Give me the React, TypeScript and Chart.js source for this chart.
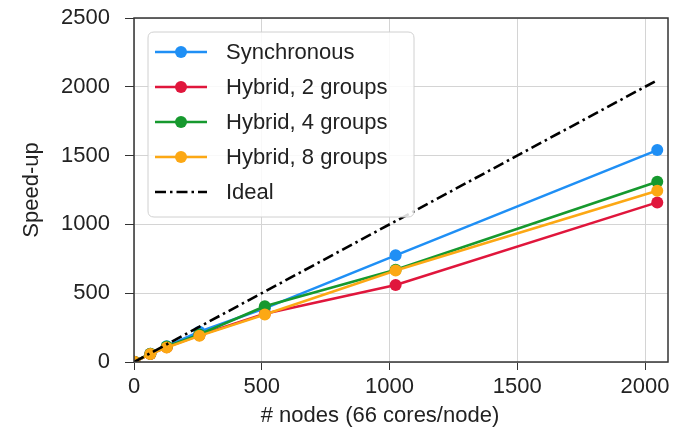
import React, { useEffect, useRef } from "react";
import { Chart, registerables } from "chart.js";

Chart.register(...registerables);

const nodes = [1, 64, 128, 256, 512, 1024, 2048];
const synchronous = [1, 60, 115, 220, 390, 775, 1540];
const hybrid2 = [1, 58, 108, 195, 350, 560, 1160];
const hybrid4 = [1, 60, 112, 200, 405, 670, 1310];
const hybrid8 = [1, 58, 105, 190, 345, 665, 1245];
const idealNodes = [0, 2048];
const idealSpeedup = [0, 2048];

const xTicks = [0, 500, 1000, 1500, 2000];
const yTicks = [0, 500, 1000, 1500, 2000, 2500];

const seriesNames = ["Synchronous", "Hybrid, 2 groups", "Hybrid, 4 groups", "Hybrid, 8 groups", "Ideal"];
const seriesColors = ["#1f8ff5", "#e0163c", "#16992e", "#fca814", "#000000"];

const FONT = "'Liberation Sans', Arial, sans-serif";
const FS = 22;
const TEXT = "#222222";

const toPts = (xs: number[], ys: number[]) => xs.map((x, i) => ({ x, y: ys[i] }));

const decorPlugin = {
  id: "decor",
  afterDraw(chart: any) {
    const { ctx, chartArea } = chart;
    const { left, right, top, bottom } = chartArea;
    ctx.save();
    ctx.strokeStyle = "#333333";
    ctx.lineWidth = 1.5;
    ctx.strokeRect(left, top, right - left, bottom - top);
    ctx.fillStyle = TEXT;
    ctx.font = `${FS}px ${FONT}`;
    ctx.textAlign = "center";
    ctx.textBaseline = "middle";
    ctx.fillText("# nodes (66 cores/node)", 380, 416);
    ctx.save();
    ctx.translate(32, 190);
    ctx.rotate(-Math.PI / 2);
    ctx.fillText("Speed-up", 0, 0);
    ctx.restore();

    const bx = 148, by = 32, bw = 266, bh = 185, r = 6;
    ctx.beginPath();
    ctx.moveTo(bx + r, by);
    ctx.lineTo(bx + bw - r, by);
    ctx.quadraticCurveTo(bx + bw, by, bx + bw, by + r);
    ctx.lineTo(bx + bw, by + bh - r);
    ctx.quadraticCurveTo(bx + bw, by + bh, bx + bw - r, by + bh);
    ctx.lineTo(bx + r, by + bh);
    ctx.quadraticCurveTo(bx, by + bh, bx, by + bh - r);
    ctx.lineTo(bx, by + r);
    ctx.quadraticCurveTo(bx, by, bx + r, by);
    ctx.closePath();
    ctx.fillStyle = "rgba(255,255,255,0.85)";
    ctx.fill();
    ctx.strokeStyle = "#d0d0d0";
    ctx.lineWidth = 1;
    ctx.stroke();

    ctx.textAlign = "left";
    seriesNames.forEach((name, i) => {
      const y = 52 + i * 35;
      ctx.strokeStyle = seriesColors[i];
      ctx.lineWidth = 2.6;
      if (i === 4) ctx.setLineDash([11, 4, 2.5, 4]);
      else ctx.setLineDash([]);
      ctx.beginPath();
      ctx.moveTo(155, y);
      ctx.lineTo(207, y);
      ctx.stroke();
      ctx.setLineDash([]);
      if (i < 4) {
        ctx.fillStyle = seriesColors[i];
        ctx.beginPath();
        ctx.arc(181, y, 6, 0, Math.PI * 2);
        ctx.fill();
      }
      ctx.fillStyle = TEXT;
      ctx.fillText(name, 226, y + 1);
    });
    ctx.restore();
  },
};

export default function App() {
  const ref = useRef<HTMLCanvasElement | null>(null);
  useEffect(() => {
    if (!ref.current) return;
    const lineDs = (i: number, ys: number[], order: number) => ({
      label: seriesNames[i],
      data: toPts(nodes, ys),
      borderColor: seriesColors[i],
      backgroundColor: seriesColors[i],
      borderWidth: 2.6,
      pointRadius: 6,
      pointBorderWidth: 0,
      pointHoverRadius: 6,
      order,
    });
    const chart = new Chart(ref.current, {
      type: "line",
      data: {
        datasets: [
          lineDs(0, synchronous, 4),
          lineDs(1, hybrid2, 3),
          lineDs(2, hybrid4, 2),
          lineDs(3, hybrid8, 1),
          {
            label: seriesNames[4],
            data: toPts(idealNodes, idealSpeedup),
            borderColor: "#000000",
            borderWidth: 2.6,
            borderDash: [11, 4, 2.5, 4],
            pointRadius: 0,
            order: 0,
          },
        ],
      },
      options: {
        animation: false,
        responsive: false,
        maintainAspectRatio: false,
        layout: { padding: { left: 0, right: 9, top: 18, bottom: 0 } },
        plugins: { legend: { display: false }, tooltip: { enabled: false } },
        scales: {
          x: {
            type: "linear",
            min: 0,
            max: 2090,
            afterBuildTicks: (s: any) => {
              s.ticks = xTicks.map((v) => ({ value: v }));
            },
            afterFit: (s: any) => {
              s.height = 74;
              s.paddingLeft = 0;
              s.paddingRight = 0;
            },
            grid: { color: "#d4d4d4", lineWidth: 1, tickColor: "#333333", tickLength: 8, drawTicks: true },
            border: { display: false },
            ticks: {
              color: TEXT,
              font: { family: FONT, size: FS },
              padding: 4,
              maxRotation: 0,
              callback: (v: any) => String(v),
            },
          },
          y: {
            type: "linear",
            min: 0,
            max: 2500,
            afterBuildTicks: (s: any) => {
              s.ticks = yTicks.map((v) => ({ value: v }));
            },
            afterFit: (s: any) => {
              s.width = 134;
              s.paddingTop = 0;
              s.paddingBottom = 0;
            },
            grid: { color: "#d4d4d4", lineWidth: 1, tickColor: "#333333", tickLength: 9, drawTicks: true },
            border: { display: false },
            ticks: {
              color: TEXT,
              font: { family: FONT, size: FS },
              padding: 15,
              callback: (v: any) => String(v),
            },
          },
        },
      },
      plugins: [decorPlugin],
    });
    return () => chart.destroy();
  }, []);
  return (
    <div style={{ position: "fixed", left: 0, top: 0, width: 677, height: 436, background: "#fff" }}>
      <canvas ref={ref} width={677} height={436} style={{ width: 677, height: 436, display: "block" }} />
    </div>
  );
}
